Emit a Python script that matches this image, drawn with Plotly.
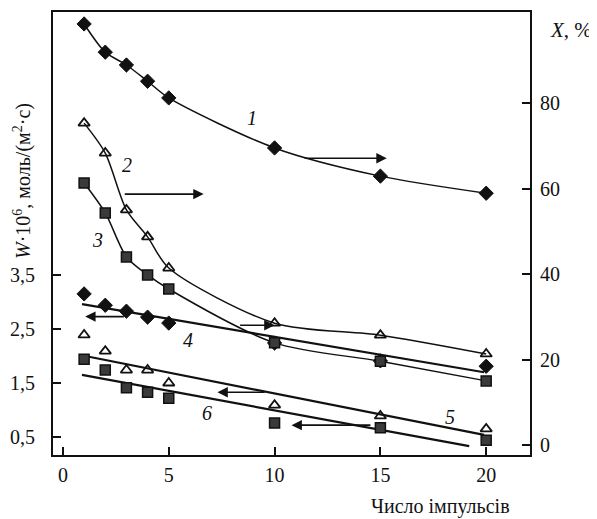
import plotly.graph_objects as go

# ---- data ----
pulses = [1, 2, 3, 4, 5, 10, 15, 20]
conv_1 = [98.5, 91.9, 88.9, 85.1, 81.2, 69.5, 62.9, 58.9]   # X, % (right axis)
conv_2 = [75.3, 68.3, 55.0, 48.7, 41.4, 28.5, 25.7, 21.3]
conv_3 = [61.3, 54.3, 44.0, 39.8, 36.5, 23.9, 19.6, 15.0]
rate_4 = [3.15, 2.94, 2.83, 2.72, 2.61, 2.24, 1.91, 1.81]   # W*1e6 (left axis)
rate_5 = [2.39, 2.09, 1.74, 1.74, 1.50, 1.09, 0.89, 0.65]
rate_6 = [1.94, 1.74, 1.41, 1.33, 1.22, 0.76, 0.67, 0.44]
fit4_x = [0.9, 19.9]
fit4_w = [2.96, 1.70]
fit5_x = [1.05, 19.9]
fit5_w = [2.00, 0.54]
fit6_x = [0.9, 19.2]
fit6_w = [1.65, 0.33]

x_ticks = [0, 5, 10, 15, 20]
w_ticks = [0.5, 1.5, 2.5, 3.5]
w_tick_text = ["0,5", "1,5", "2,5", "3,5"]
x_conv_ticks = [0, 20, 40, 60, 80]

FONT = "Liberation Serif, Times New Roman, serif"
BLACK = "#111111"

fig = go.Figure()

diamond = dict(symbol="diamond", size=11, color=BLACK, line=dict(color=BLACK, width=1))
tri = dict(symbol="triangle-up-open", size=10, color=BLACK, line=dict(color=BLACK, width=1.8))
sq = dict(symbol="square", size=10, color="#3a3a3a", line=dict(color=BLACK, width=1.5))

# curves 1-3 (right axis), smooth lines
fig.add_trace(go.Scatter(x=pulses, y=conv_1, yaxis="y2", mode="lines+markers",
                         line=dict(color=BLACK, width=1.5, shape="spline", smoothing=0.8),
                         marker=diamond))
fig.add_trace(go.Scatter(x=pulses, y=conv_2, yaxis="y2", mode="lines+markers",
                         line=dict(color=BLACK, width=1.5, shape="spline", smoothing=0.8),
                         marker=tri))
fig.add_trace(go.Scatter(x=pulses, y=conv_3, yaxis="y2", mode="lines+markers",
                         line=dict(color=BLACK, width=1.5, shape="spline", smoothing=0.8),
                         marker=sq))

# fit lines 4-6 (left axis)
for fx, fw in [(fit4_x, fit4_w), (fit5_x, fit5_w), (fit6_x, fit6_w)]:
    fig.add_trace(go.Scatter(x=fx, y=fw, yaxis="y", mode="lines",
                             line=dict(color=BLACK, width=2.2)))

fig.add_trace(go.Scatter(x=pulses, y=rate_4, yaxis="y", mode="markers", marker=diamond))
fig.add_trace(go.Scatter(x=pulses, y=rate_5, yaxis="y", mode="markers", marker=tri))
fig.add_trace(go.Scatter(x=pulses, y=rate_6, yaxis="y", mode="markers", marker=sq))

# page offset (browser body margin) and plot area in screen pixels
OFF = 8
L, R, T, B = 53, 530, 12, 455
W_FIG, H_FIG = 597 - OFF, 519 - OFF
def px(xp):
    return (xp - L) / (R - L)
def py(yp):
    return (B - yp) / (B - T)

def label(text, xp, yp, size, angle=0):
    return dict(text=text, xref="paper", yref="paper", x=px(xp), y=py(yp),
                showarrow=False, textangle=angle, xanchor="center", yanchor="middle",
                font=dict(family=FONT, size=size, color=BLACK))

ann = []
# curve number labels
for txt, xp, yp in [("1", 252, 118), ("2", 127, 165), ("3", 97, 240),
                    ("4", 188, 340), ("5", 450, 417), ("6", 207, 413)]:
    ann.append(label("<i>" + txt + "</i>", xp, yp, 20))

# arrows (x in pulses, y in axis units)
def arrow(x0, x1, yv, yref):
    return dict(x=x1, y=yv, ax=x0, ay=yv, xref="x", yref=yref, axref="x", ayref=yref,
                showarrow=True, arrowhead=2, arrowsize=1.3, arrowwidth=1.6,
                arrowcolor=BLACK, text="")

ann.append(arrow(11.35, 15.3, 67.1, "y2"))
ann.append(arrow(2.85, 6.65, 58.7, "y2"))
ann.append(arrow(8.3, 10.0, 28.0, "y2"))
ann.append(arrow(2.95, 1.05, 2.73, "y"))
ann.append(arrow(9.6, 7.3, 1.33, "y"))
ann.append(arrow(14.6, 10.8, 0.72, "y"))

# axis titles
ann.append(label("<i>W</i>·10<sup>6</sup>, моль/(м<sup>2</sup>·с)", 22, 181, 20, -90))
ann.append(label("<i>X</i>, %", 571, 30, 21))
ann.append(label("Число імпульсів", 440, 506, 20))

axis_common = dict(ticks="inside", ticklen=8, tickwidth=1.5, tickcolor=BLACK,
                   showline=True, linecolor=BLACK, linewidth=1.8, showgrid=False,
                   zeroline=False, automargin=False,
                   tickfont=dict(family=FONT, size=20, color=BLACK))

fig.update_layout(
    width=W_FIG, height=H_FIG,
    margin=dict(l=L - OFF, r=597 - R, t=T - OFF, b=519 - B, autoexpand=False),
    paper_bgcolor="white", plot_bgcolor="white",
    showlegend=False,
    font=dict(family=FONT, size=17, color=BLACK),
    annotations=ann,
    xaxis=dict(range=[-0.47, 22.07], tickvals=x_ticks, mirror=True,
               ticklabelstandoff=1, **axis_common),
    yaxis=dict(range=[0.167, 8.37], tickvals=w_ticks, ticktext=w_tick_text, mirror=True,
               ticklabelstandoff=12, **axis_common),
    yaxis2=dict(range=[-2.34, 101.3], tickvals=x_conv_ticks, overlaying="y", side="right",
                ticklabelstandoff=4, **axis_common),
)

fig.write_html("out.html")
